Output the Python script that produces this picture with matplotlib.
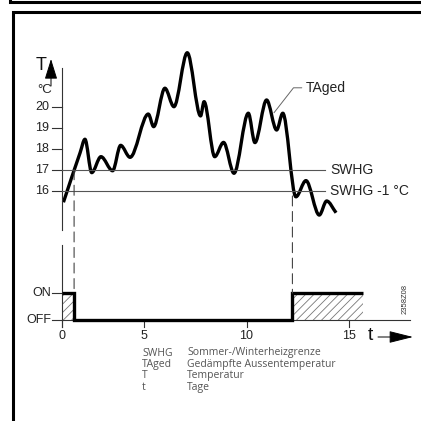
import numpy as np
import matplotlib
matplotlib.use('Agg')
import matplotlib.pyplot as plt
from matplotlib.path import Path
from matplotlib.patches import PathPatch, ConnectionPatch
from matplotlib.lines import Line2D

# ---------------- data ----------------
t_days = [0.07, 0.88, 1.12, 1.45, 1.9, 2.47, 2.86, 3.32, 4.21, 4.47, 5.02, 5.46, 6.11,
          6.76, 6.93, 7.45, 7.88, 8.39, 9.09, 9.41, 9.98, 10.47, 10.77, 11.41,
          11.9, 12.55, 12.91, 13.37]
temp = [15.45, 17.8, 18.45, 16.86, 17.62, 16.95, 18.16, 17.59, 19.65, 19.05, 20.88, 20.0, 22.57,
        19.56, 20.24, 17.62, 18.3, 16.83, 19.69, 18.29, 20.32, 18.89, 19.69, 15.71,
        16.48, 14.84, 15.51, 14.95]
T_ticks = [16, 17, 18, 19, 20]
t_ticks = [0, 4, 9, 14]
t_tick_labels = ['0', '5', '10', '15']
swhg = 17
swhg_minus = 16
switch_off = 0.59
switch_on = 11.24
t_end = 14.68
switch_times = [0, switch_off, switch_on, t_end]
switch_states = [1, 0, 1, 1]
state_ticks = [0, 1]
state_labels = ['OFF', 'ON']
legend_abbr = ['SWHG', 'TAged', 'T', 't']
legend_desc = ['Sommer-/Winterheizgrenze', 'Gedämpfte Aussentemperatur', 'Temperatur', 'Tage']

# ---------------- layout ----------------
W = H = 421
x0_px, day_px = 62, 20.5
T0_py, T_px = 169.7, 21.0
off_py, state_px = 320, 27.0

def fx(px):
    return px / W

def fy(py):
    return 1 - py / H

plt.rcParams['hatch.linewidth'] = 0.6
plt.rcParams['hatch.color'] = '#777777'

fig = plt.figure(figsize=(4.21, 4.21), dpi=100)
ax = fig.add_axes([0, 0, 1, 1])
ax.axis('off')
xlim = (-x0_px / day_px, (W - x0_px) / day_px)
ax.set_xlim(xlim)
ax.set_ylim(17 - (H - T0_py) / T_px, 17 + T0_py / T_px)

ax2 = fig.add_axes([0, 0, 1, 1])
ax2.axis('off')
ax2.patch.set_alpha(0)
ax2.set_xlim(xlim)
ax2.set_ylim(-(H - off_py) / state_px, off_py / state_px)

font = 'Liberation Sans'
axc = '#333333'

# ---- frames ----
for xs, ys in [([10, 10, W], [0, 2, 2]), ([W, 13, 13], [12, 12, H])]:
    fig.add_artist(Line2D([fx(v) for v in xs], [fy(v) for v in ys], lw=2.2,
                          color='black', transform=fig.transFigure,
                          solid_joinstyle='miter'))

# ---- upper panel ----
tick_len = 10 / day_px
ax.plot([0, 0], [17 - (230 - T0_py) / T_px, 17 + (T0_py - 68) / T_px], color=axc, lw=0.8)
for v in T_ticks:
    ax.plot([-tick_len, 0], [v, v], color=axc, lw=0.8)
    ax.text(-13 / day_px, v, str(v), ha='right', va='center', fontsize=9,
            family=font, color='#222')

line_end = (325 - x0_px) / day_px
for lvl, lab in [(swhg, 'SWHG'), (swhg_minus, 'SWHG -1 °C')]:
    ax.plot([0, line_end], [lvl, lvl], color='#555555', lw=0.8)
    ax.text(line_end + 5 / day_px, lvl, lab, ha='left', va='center', fontsize=10,
            family=font, color='#222')

# smooth temperature curve (monotone cubic Bezier through read points)
x = np.array(t_days)
y = np.array(temp)
h = np.diff(x)
d = np.diff(y) / h
m = np.zeros_like(y)
for i in range(1, len(y) - 1):
    if d[i - 1] * d[i] <= 0:
        m[i] = 0
    else:
        w1 = 2 * h[i] + h[i - 1]
        w2 = h[i] + 2 * h[i - 1]
        m[i] = (w1 + w2) / (w1 / d[i - 1] + w2 / d[i])
m[0] = d[0]
m[-1] = d[-1]
verts = [(x[0], y[0])]
codes = [Path.MOVETO]
for i in range(len(h)):
    verts += [(x[i] + h[i] / 3, y[i] + m[i] * h[i] / 3),
              (x[i + 1] - h[i] / 3, y[i + 1] - m[i + 1] * h[i] / 3),
              (x[i + 1], y[i + 1])]
    codes += [Path.CURVE4] * 3
ax.add_patch(PathPatch(Path(verts, codes), fill=False, lw=2.4, color='black',
                       capstyle='butt', joinstyle='round'))

# TAged label with leader
ax.annotate('TAged', xy=(10.34, 19.71), xytext=(11.9, 20.9), fontsize=10,
            family=font, color='#222', va='center', ha='left',
            arrowprops=dict(arrowstyle='-', color='#666', lw=0.7,
                            shrinkA=1, shrinkB=0,
                            connectionstyle='angle,angleA=0,angleB=52,rad=0'))

# ---- lower panel ----
ax2.plot([0, 0], [-(327 - off_py) / state_px, (off_py - 245) / state_px], color=axc, lw=0.8)
ax2.plot([0, (410 - x0_px) / day_px], [0, 0], color=axc, lw=0.8)
for v, lab in zip(state_ticks, state_labels):
    ax2.plot([-tick_len, 0], [v, v], color=axc, lw=0.8)
    ax2.text(-11 / day_px, v, lab, ha='right', va='center', fontsize=9,
             family=font, color='#222')
for v, lab in zip(t_ticks, t_tick_labels):
    ax2.plot([v, v], [0, -7 / state_px], color=axc, lw=0.8)
    ax2.text(v, -16 / state_px, lab, ha='center', va='center', fontsize=9,
             family=font, color='#222')

for a, b in [(0, switch_off), (switch_on, t_end)]:
    ax2.fill_between([a, b], 0, 1, hatch='////', facecolor='none', edgecolor='#777777', lw=0)
ax2.step(switch_times, switch_states, where='post', color='black', lw=2.4,
         solid_joinstyle='miter', solid_capstyle='butt')

# dashed switching lines
for tx, tv in [(switch_off, swhg), (switch_on, 15.75)]:
    cp = ConnectionPatch(xyA=(tx, tv), coordsA=ax.transData, xyB=(tx, 1), coordsB=ax2.transData,
                         linestyle=(0, (9, 5)), lw=0.8, color='#444444')
    fig.add_artist(cp)

# ---- axis titles / arrows ----
fig.text(fx(36), fy(66), 'T', fontsize=13, family=font, ha='left', va='center', color='#111')
fig.text(fx(37), fy(90), '°C', fontsize=9.5, family=font, ha='left', va='center', color='#222')
ax.annotate('', xy=(51, H - 59), xytext=(51, H - 86), xycoords='figure pixels',
            textcoords='figure pixels',
            arrowprops=dict(arrowstyle='-|>,head_length=0.9,head_width=0.28', color='black',
                            lw=0.7, mutation_scale=14, shrinkA=0, shrinkB=0))
fig.text(fx(368), fy(336), 't', fontsize=14, family=font, ha='left', va='center', color='#111')
ax.annotate('', xy=(413, H - 337), xytext=(378, H - 337), xycoords='figure pixels',
            textcoords='figure pixels',
            arrowprops=dict(arrowstyle='-|>,head_length=1.0,head_width=0.25', color='black',
                            lw=0.7, mutation_scale=15, shrinkA=0, shrinkB=0))
fig.text(fx(405), fy(299), '2358Z08', fontsize=5.5, family=font, rotation=90,
         ha='center', va='center', color='#333')

# ---- legend ----
for i, (ab, ds) in enumerate(zip(legend_abbr, legend_desc)):
    yy = 353 + i * 11.4
    fig.text(fx(142), fy(yy), ab, fontsize=7.5, family='Open Sans', color='#555',
             ha='left', va='center')
    fig.text(fx(187), fy(yy), ds, fontsize=7.5, family='Open Sans', color='#555',
             ha='left', va='center')

fig.savefig('out.png', dpi=100)
